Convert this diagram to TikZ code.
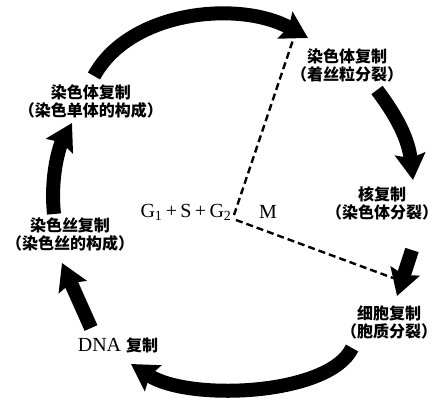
\documentclass[tikz,border=0pt]{standalone}
\usepackage{fontspec}
\setmainfont{Liberation Serif}
\newfontfamily\cjk{Noto Sans CJK SC}
\usetikzlibrary{arrows.meta}
\begin{document}
\begin{tikzpicture}[x=1pt,y=-1pt,
  bigarrow/.style={line width=14pt,-{Stealth[length=26pt,width=30pt,inset=4pt]}},
  dashline/.style={line width=2.4pt,dash pattern=on 7pt off 4pt},
  cn/.style={font=\cjk\bfseries\fontsize{16}{18}\selectfont,align=center,inner sep=0pt},
  lat/.style={font=\fontsize{20}{24}\selectfont,inner sep=0pt}]
\useasboundingbox[fill=white] (0,0) rectangle (439,399);

% text nodes
\node[cn] (n1) at (347,65) {染色体复制\\（着丝粒分裂）};
\node[cn] (n2) at (382,203) {核复制\\（染色体分裂）};
\node[cn] (n3) at (389,322) {细胞复制\\（胞质分裂）};
\node[lat] (n4) at (118,345) {DNA {\cjk\bfseries\fontsize{16}{18}\selectfont 复制}};
\node[cn] (n5) at (70,234) {染色丝复制\\（染色丝的构成）};
\node[cn] (n6) at (91,101) {染色体复制\\（染色单体的构成）};
\node[lat] (g) at (186,212) {G\textsubscript{1}\,+\,S\,+\,G\textsubscript{2}};
\node[lat] (m) at (268,212) {M};

% dashed boundaries between interphase and M phase
\coordinate (c1) at (234,215);
\coordinate (c2) at (236,220);
\coordinate (dt) at (293,40);
\coordinate (dr) at (393,278);
\draw[dashline] (c1) -- (dt);
\draw[dashline] (c2) -- (dr);

% cycle arrows
\coordinate (a1s) at (94,76);   \coordinate (a1e) at (308,38);
\coordinate (a2s) at (377,90);  \coordinate (a2e) at (413,180);
\coordinate (a3s) at (412,250); \coordinate (a3e) at (397,296);
\coordinate (a4s) at (352,348); \coordinate (a4e) at (131,364);
\coordinate (a5s) at (91,328);  \coordinate (a5e) at (62,263);
\coordinate (a6s) at (54,214);  \coordinate (a6e) at (72,123);

\draw[bigarrow] (a1s) .. controls (130,10) and (240,0) .. (a1e);
\draw[bigarrow] (a2s) .. controls (392,110) and (408,135) .. (a2e);
\draw[bigarrow] (a3s) -- (a3e);
\draw[bigarrow] (a4s) .. controls (330,395) and (190,402) .. (a4e);
\draw[bigarrow] (a5s) -- (a5e);
\draw[bigarrow] (a6s) .. controls (50,175) and (60,145) .. (a6e);
\end{tikzpicture}
\end{document}
